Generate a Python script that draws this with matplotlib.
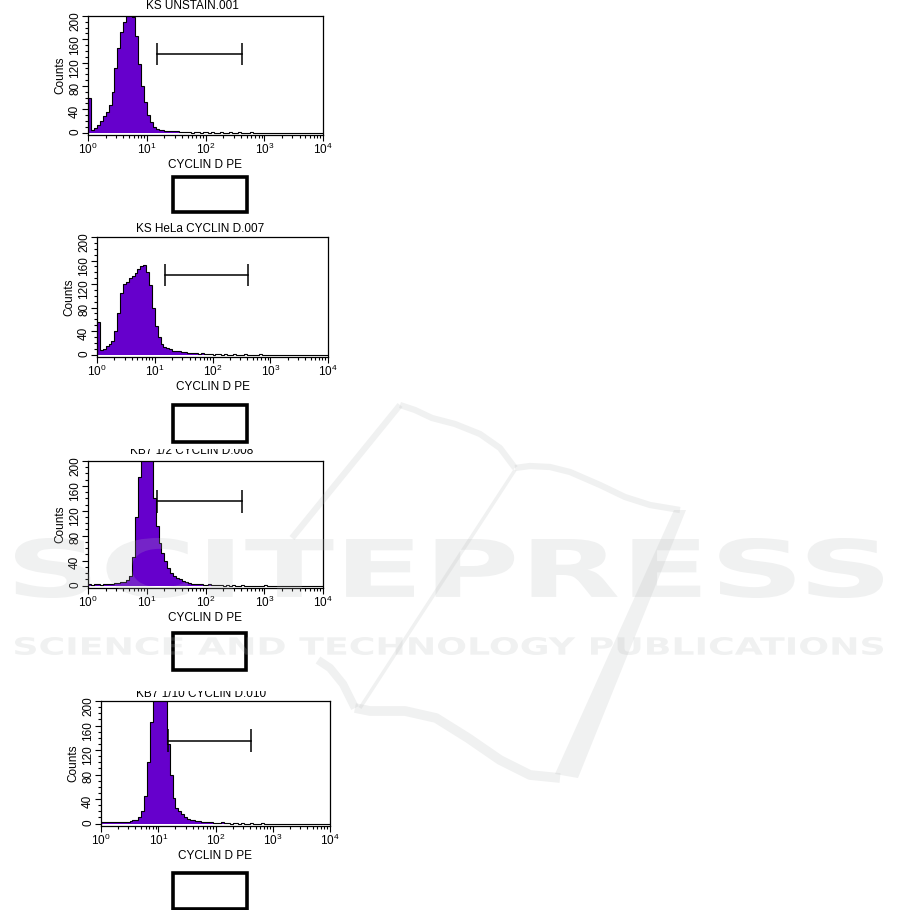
import numpy as np
import matplotlib
matplotlib.use("Agg")
import matplotlib.pyplot as plt
from matplotlib.lines import Line2D
from matplotlib.patches import Rectangle, PathPatch, Polygon
from matplotlib.textpath import TextPath
from matplotlib.font_manager import FontProperties
from matplotlib.transforms import Affine2D, Bbox, TransformedBbox
from matplotlib.ticker import LogLocator, MultipleLocator, NullFormatter

plt.rcParams['font.family'] = ['Liberation Sans', 'DejaVu Sans']
plt.rcParams['font.size'] = 8.5

W, H = 901, 910

# ---- data: counts per log channel bin (bin width 0.05 decade, 10^0 .. 10^4) ----
titles = ["KS UNSTAIN.001", "KS HeLa CYCLIN D.007",
          "KB7 1/2 CYCLIN D.008", "KB7 1/10 CYCLIN D.010"]
x_label = "CYCLIN D PE"
y_label = "Counts"
y_ticks = [0, 40, 80, 120, 160, 200]
gate = [15, 420, 135]          # left, right, height (counts)

counts_unstain = [60, 5, 8, 13, 20, 28, 36, 48, 70, 110,
                  145, 172, 190, 200, 205, 198, 165, 118, 80, 52,
                  30, 18, 10, 7, 5, 4, 3, 3, 2, 2,
                  2, 1, 1, 1, 1, 0, 1, 1, 0, 1,
                  1, 0, 1, 0, 0, 1, 0, 0, 1, 0,
                  0, 1, 0, 0, 0, 1, 0, 0, 0, 0,
                  0, 0, 0, 0, 0, 0, 0, 0, 0, 0,
                  0, 0, 0, 0, 0, 0, 0, 0, 0, 0]
counts_hela = [55, 8, 10, 14, 18, 24, 40, 70, 105, 120,
               124, 130, 134, 138, 145, 150, 152, 140, 118, 80,
               48, 30, 18, 13, 11, 9, 7, 6, 7, 5,
               4, 3, 3, 2, 2, 1, 2, 1, 1, 1,
               0, 1, 1, 0, 1, 0, 0, 1, 0, 0,
               0, 1, 0, 0, 0, 0, 1, 0, 0, 0,
               0, 0, 0, 0, 0, 0, 0, 0, 0, 0,
               0, 0, 0, 0, 0, 0, 0, 0, 0, 0]
counts_kb7_2 = [2, 1, 2, 2, 1, 2, 3, 2, 3, 4,
                4, 5, 6, 9, 16, 45, 110, 175, 230, 250,
                240, 210, 140, 95, 68, 52, 40, 28, 20, 15,
                12, 10, 7, 5, 4, 3, 3, 2, 2, 1,
                1, 2, 1, 1, 1, 1, 0, 1, 0, 1,
                0, 0, 1, 0, 0, 0, 0, 0, 0, 0,
                1, 0, 0, 0, 0, 0, 0, 0, 0, 0,
                0, 0, 0, 0, 0, 0, 0, 0, 0, 0]
counts_kb7_10 = [3, 2, 2, 3, 2, 2, 3, 2, 2, 3,
                 4, 5, 6, 10, 20, 45, 100, 165, 230, 260,
                 265, 250, 215, 130, 80, 42, 26, 20, 15, 10,
                 8, 6, 5, 4, 4, 3, 3, 2, 2, 1,
                 1, 1, 2, 1, 1, 0, 1, 1, 0, 1,
                 0, 0, 1, 0, 0, 0, 1, 0, 0, 0,
                 0, 0, 0, 0, 0, 0, 0, 0, 0, 0,
                 0, 0, 0, 0, 0, 0, 0, 0, 0, 0]
all_counts = [counts_unstain, counts_hela, counts_kb7_2, counts_kb7_10]
edges = 10 ** (np.arange(81) * 0.05)

# ---- layout in pixels ----
axes_px = [(88, 323, 16, 135), (97, 328, 237, 357),
           (88, 323, 461, 588), (101, 330, 701, 826)]
title_px = [(192, 6, None), (200, 229, None), (192, 451, 449), (201, 694, 691)]
box_px = [(173, 247, 177, 212), (173, 247, 405, 442),
          (173, 246, 633, 670), (173, 247, 873, 909)]

purple = '#6600cc'

fig = plt.figure(figsize=(W / 100, H / 100), dpi=100)


def fx(x):
    return x / W


def fy(y):
    return 1 - y / H


for i in range(4):
    l, r, t, b = axes_px[i]
    ax = fig.add_axes([fx(l), fy(b), (r - l) / W, (b - t) / H])
    c = np.array(all_counts[i], dtype=float)
    ax.stairs(c, edges, fill=True, color=purple, baseline=0, zorder=2)
    ax.stairs(c, edges, color='black', lw=0.8, baseline=0, zorder=3)
    ax.set_xscale('log')
    ax.set_xlim(1, 1e4)
    ax.set_ylim(-4, 200)
    ax.set_yticks(y_ticks)
    ax.yaxis.set_minor_locator(MultipleLocator(10))
    ax.xaxis.set_major_locator(LogLocator(base=10, numticks=10))
    ax.xaxis.set_minor_locator(LogLocator(base=10, subs=np.arange(2, 10), numticks=10))
    ax.xaxis.set_minor_formatter(NullFormatter())
    ax.tick_params(which='both', direction='out', width=0.8, labelsize=8.5, pad=1)
    ax.tick_params(which='major', length=4)
    ax.tick_params(which='minor', length=2.5)
    ax.tick_params(axis='y', labelrotation=90)
    for sp in ax.spines.values():
        sp.set_linewidth(0.9)
    ax.set_xlabel(x_label, labelpad=1)
    ax.set_ylabel(y_label, labelpad=2)

    # gate marker
    g0, g1, gh = gate
    ax.plot([g0, g1], [gh, gh], color='black', lw=1.1, zorder=4)
    ax.vlines([g0, g1], gh - 19, gh + 19, color='black', lw=1.1, zorder=4)

    # title (the lower two are cut off at the top in the source)
    tx, ty, clip = title_px[i]
    txt = fig.text(fx(tx), fy(ty), titles[i], ha='center', va='center')
    if clip is not None:
        txt.set_clip_box(TransformedBbox(Bbox([[0, 0], [1, fy(clip)]]), fig.transFigure))
        txt.set_clip_on(True)

    # empty box under each panel
    x0, x1, y0, y1 = box_px[i]
    fig.add_artist(Rectangle((fx(x0), fy(y1)), (x1 - x0) / W, (y1 - y0) / H,
                             transform=fig.transFigure, fill=False,
                             edgecolor='black', lw=2.6))

# ---- publisher watermark ----
wm_color = '#b5b9b9'
wm_alpha = 0.2


def stretched_text(s, x0, x1, y0, y1):
    tp = TextPath((0, 0), s, size=1, prop=FontProperties(family='DejaVu Sans', weight='bold'))
    bb = tp.get_extents()
    tr = (Affine2D().translate(-bb.x0, -bb.y0)
          .scale((x1 - x0) / W / bb.width, (y1 - y0) / H / bb.height)
          .translate(fx(x0), fy(y1)))
    fig.add_artist(PathPatch(tp, transform=tr + fig.transFigure, facecolor=wm_color,
                             edgecolor='none', alpha=wm_alpha, zorder=10))


stretched_text("SCITEPRESS", 15, 883, 538, 598)
stretched_text("SCIENCE AND TECHNOLOGY PUBLICATIONS", 15, 883, 637, 655)

strokes = [
    ([(400, 405), (292, 538)], 4.5),
    ([(400, 405), (415, 410), (432, 418), (455, 424), (480, 434), (500, 448), (515, 468)], 4.5),
    ([(515, 468), (530, 466), (550, 467), (570, 472), (600, 485), (625, 497), (650, 505), (680, 510)], 4.5),
    ([(515, 470), (360, 708)], 2.5),
    ([(560, 778), (530, 775), (500, 760), (468, 738), (436, 718), (405, 711), (370, 711), (355, 708)], 7),
    ([(355, 708), (343, 684), (330, 668), (318, 660)], 6),
]
for pts, lw in strokes:
    xs = [fx(p[0]) for p in pts]
    ys = [fy(p[1]) for p in pts]
    fig.add_artist(Line2D(xs, ys, transform=fig.transFigure, color=wm_color,
                          alpha=wm_alpha, lw=lw, solid_capstyle='butt', zorder=10))
fig.add_artist(Polygon([(fx(674), fy(510)), (fx(686), fy(510)), (fx(578), fy(778)), (fx(555), fy(774))],
                       closed=True, transform=fig.transFigure, facecolor=wm_color,
                       edgecolor='none', alpha=wm_alpha, zorder=10))

fig.savefig('out.png', dpi=100)
